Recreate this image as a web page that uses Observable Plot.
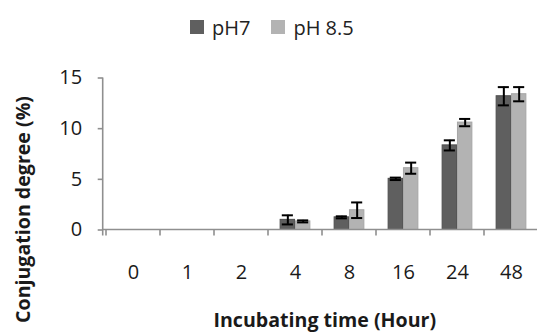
<!DOCTYPE html>
<html>
<head>
<meta charset="utf-8">
<script src="https://cdn.jsdelivr.net/npm/d3@7"></script>
<script src="https://cdn.jsdelivr.net/npm/@observablehq/plot@0.6"></script>
<style>
  html, body { margin: 0; padding: 0; background: #fff; overflow: hidden; }
  body { width: 537px; height: 332px; font-family: "Open Sans", sans-serif; }
  #legend { position: relative; height: 50px; }
  #legend .items { position: absolute; left: 190px; top: 0; height: 54px; display: flex; align-items: center; font-size: 20px; color: #222; }
  #legend .sw { width: 14px; height: 14px; display: inline-block; margin-right: 8px; }
  #legend .item { display: flex; align-items: center; margin-right: 21px; }
</style>
</head>
<body>
<div id="legend"></div>
<div id="chart"></div>
<script>
// ---- data ----
const categories = ["0", "1", "2", "4", "8", "16", "24", "48"];
const seriesNames = ["pH7", "pH 8.5"];
const pH7 = [0, 0, 0, 1.0, 1.25, 5.05, 8.35, 13.2];
const pH7Err = [0, 0, 0, 0.45, 0.1, 0.12, 0.5, 0.9];
const pH85 = [0, 0, 0, 0.85, 1.95, 6.1, 10.6, 13.4];
const pH85Err = [0, 0, 0, 0.1, 0.77, 0.55, 0.36, 0.7];
const yTicks = [0, 5, 10, 15];
const xTitle = "Incubating time (Hour)";
const yTitle = "Conjugation degree (%)";

// ---- styling / layout ----
const colors = ["#5f5f5f", "#b3b3b3"];
const strokes = ["#4e4e4e", "#a6a6a6"];
const AXIS = "#8f8f8f";
const W = 537, H = 282;
const ML = 102.7, MR = -4.9, MT = 27.5, MB = 102.5;
const bw = (W - ML - MR) / categories.length;
const barW = 0.279 * bw;
const capW = 12;
const TICK = 6;

// legend
const legend = document.querySelector("#legend");
const items = document.createElement("div");
items.className = "items";
seriesNames.forEach((s, i) => {
  const it = document.createElement("div");
  it.className = "item";
  const sw = document.createElement("span");
  sw.className = "sw";
  sw.style.background = colors[i];
  it.appendChild(sw);
  it.appendChild(document.createTextNode(s));
  items.appendChild(it);
});
legend.appendChild(items);

// table
const rows = [];
categories.forEach((c, i) => {
  rows.push({cat: c, series: seriesNames[0], s: 0, v: pH7[i], e: pH7Err[i]});
  rows.push({cat: c, series: seriesNames[1], s: 1, v: pH85[i], e: pH85Err[i]});
});
const barRows = rows.filter(d => d.v > 0);
const errRows = rows.filter(d => d.e > 0);

// offsets within the band
const half = bw / 2;
function barInsets(s) {
  return s === 0 ? {insetLeft: half - barW, insetRight: half} : {insetLeft: half, insetRight: half - barW};
}
function capInsets(s) {
  const c = s === 0 ? half - barW / 2 : half + barW / 2;
  return {insetLeft: c - capW / 2, insetRight: bw - c - capW / 2};
}
const dxOf = s => (s === 0 ? -barW / 2 : barW / 2);

function axesLines(index, scales, values, dims) {
  const x = scales.x, y = scales.y;
  const g = d3.create("svg:g").attr("stroke", AXIS).attr("stroke-width", 1.6).attr("fill", "none");
  const x0 = dims.marginLeft, x1 = dims.width - dims.marginRight;
  const y0 = y(0);
  g.append("line").attr("x1", x0).attr("x2", x0).attr("y1", y(yTicks[yTicks.length - 1])).attr("y2", y0 + TICK);
  g.append("line").attr("x1", x0).attr("x2", x1).attr("y1", y0).attr("y2", y0);
  categories.forEach(c => {
    const xx = x(c);
    g.append("line").attr("x1", xx).attr("x2", xx).attr("y1", y0).attr("y2", y0 + TICK);
  });
  return g.node();
}

const marks = [];
[0, 1].forEach(s => {
  marks.push(Plot.barY(barRows.filter(d => d.s === s), {
    x: "cat", y: "v", fill: colors[s], stroke: strokes[s], strokeWidth: 1, ...barInsets(s)
  }));
});
[0, 1].forEach(s => {
  const er = errRows.filter(d => d.s === s);
  marks.push(Plot.ruleX(er, {x: "cat", y1: d => d.v - d.e, y2: d => d.v + d.e, dx: dxOf(s), stroke: "#000", strokeWidth: 2}));
  marks.push(Plot.tickY(er, {x: "cat", y: d => d.v + d.e, stroke: "#000", strokeWidth: 2, ...capInsets(s)}));
  marks.push(Plot.tickY(er, {x: "cat", y: d => d.v - d.e, stroke: "#000", strokeWidth: 2, ...capInsets(s)}));
});
marks.push(axesLines);
marks.push(Plot.axisY({ticks: yTicks, tickSize: 5, tickPadding: 16, stroke: AXIS, strokeWidth: 1.6, fontSize: 20, color: "#1a1a1a", label: null}));
marks.push(Plot.axisX({tickSize: 0, tickPadding: 34.5, fontSize: 20, color: "#1a1a1a", label: null}));
marks.push(Plot.text([xTitle], {frameAnchor: "bottom", dx: 2, dy: 90.5, textAnchor: "middle", lineAnchor: "middle", fontSize: 19.6, fontWeight: "bold", fill: "#1a1a1a", text: d => d}));
marks.push(Plot.text([yTitle], {frameAnchor: "left", dx: -79.7, dy: 55.5, rotate: -90, textAnchor: "middle", lineAnchor: "middle", fontSize: 19.6, fontWeight: "bold", fill: "#1a1a1a", text: d => d}));

const chart = Plot.plot({
  width: W, height: H,
  marginLeft: ML, marginRight: MR, marginTop: MT, marginBottom: MB,
  style: {fontFamily: "Open Sans, sans-serif", background: "#fff", overflow: "visible"},
  x: {type: "band", domain: categories, padding: 0, axis: null},
  y: {domain: [0, 15], axis: null},
  marks
});
document.querySelector("#chart").appendChild(chart);
</script>
</body>
</html>
